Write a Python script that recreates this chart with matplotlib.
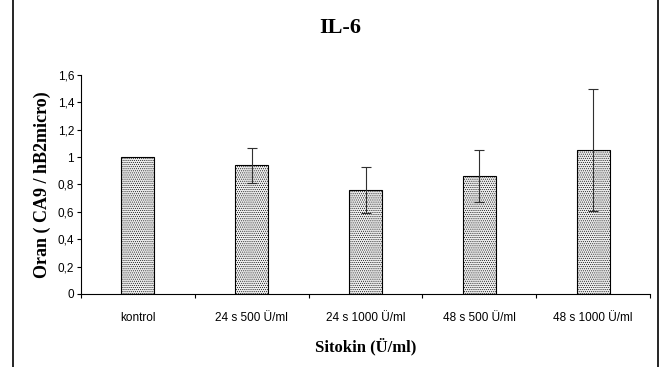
# IL-6 bar chart with error bars
import matplotlib
matplotlib.use("Agg")
import matplotlib.pyplot as plt
import numpy as np
from matplotlib.lines import Line2D

categories = ["kontrol", "24 s 500 Ü/ml", "24 s 1000 Ü/ml", "48 s 500 Ü/ml", "48 s 1000 Ü/ml"]
values = [1.0, 0.94, 0.76, 0.86, 1.05]
errors = [0.0, 0.13, 0.17, 0.19, 0.445]
yticks = [0, 0.2, 0.4, 0.6, 0.8, 1.0, 1.2, 1.4, 1.6]
ytick_labels = ["0", "0,2", "0,4", "0,6", "0,8", "1", "1,2", "1,4", "1,6"]

plt.rcParams["hatch.color"] = "#b4b4b4"
plt.rcParams["hatch.linewidth"] = 0.4

fig = plt.figure(figsize=(6.67, 3.67), dpi=100)
ax = fig.add_axes([81 / 667, 1 - 294 / 367, (650 - 81) / 667, (294 - 75) / 367])

index = np.arange(len(categories))
ax.bar(index, values, width=0.29, color="#ececec", edgecolor="black",
       linewidth=0.8, hatch="........")
err_idx = [i for i in index if errors[i] > 0]
ax.errorbar(err_idx, [values[i] for i in err_idx], yerr=[errors[i] for i in err_idx],
            fmt="none", ecolor="#303030", elinewidth=0.8, capsize=3.5, capthick=0.8)

ax.set_xlim(-0.5, len(categories) - 0.5)
ax.set_ylim(0, 1.6)
ax.set_yticks(yticks)
ax.set_yticklabels(ytick_labels, fontfamily="Liberation Sans", fontsize=8.5)
ax.set_xticks(index)
ax.set_xticklabels(categories, fontfamily="Liberation Sans", fontsize=8.5)
ax.tick_params(axis="x", length=0, pad=13)
ax.tick_params(axis="y", length=3, width=0.8, pad=2)
# category boundary ticks
ax.set_xticks(np.arange(-0.5, len(categories)), minor=True)
ax.tick_params(axis="x", which="minor", length=3, width=0.8, direction="out")

for s in ["top", "right"]:
    ax.spines[s].set_visible(False)
ax.spines["left"].set_linewidth(0.8)
ax.spines["bottom"].set_linewidth(0.8)

ax.set_ylabel("Oran ( CA9 / hB2micro)", fontfamily="Liberation Serif",
              fontweight="bold", fontsize=13, labelpad=5)
ax.set_xlabel("Sitokin (Ü/ml)", fontfamily="Liberation Serif",
              fontweight="bold", fontsize=12, labelpad=10)
fig.text(340 / 667, 1 - 28 / 367, "IL-6", fontfamily="Liberation Serif",
         fontweight="bold", fontsize=16, ha="center", va="center")

# frame lines on the left and right edge of the picture
fig.add_artist(Line2D([13.5 / 667, 13.5 / 667], [0, 1], color="black", linewidth=1.2))
fig.add_artist(Line2D([657.5 / 667, 657.5 / 667], [0, 1], color="black", linewidth=1.2))

fig.savefig("out.png", dpi=100)
